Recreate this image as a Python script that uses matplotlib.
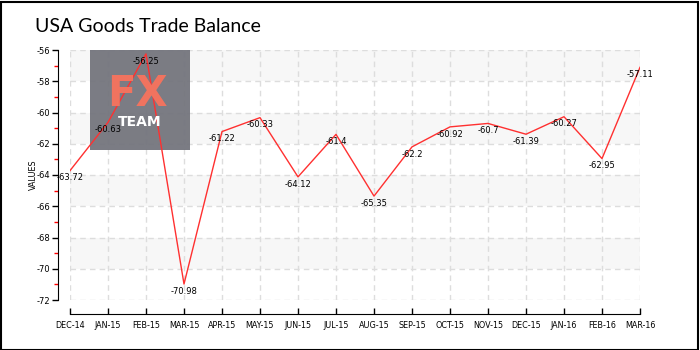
import matplotlib
matplotlib.use("Agg")
import matplotlib.pyplot as plt
from matplotlib.patches import Rectangle

months = ["DEC-14", "JAN-15", "FEB-15", "MAR-15", "APR-15", "MAY-15", "JUN-15", "JUL-15",
          "AUG-15", "SEP-15", "OCT-15", "NOV-15", "DEC-15", "JAN-16", "FEB-16", "MAR-16"]
values = [-63.72, -60.63, -56.25, -70.98, -61.22, -60.33, -64.12, -61.4,
          -65.35, -62.2, -60.92, -60.7, -61.39, -60.27, -62.95, -57.11]
y_ticks = [-56, -58, -60, -62, -64, -66, -68, -70, -72]
minor_ticks = [-57, -59, -61, -63, -65, -67, -69, -71]

W, H = 700, 350
fig = plt.figure(figsize=(7, 3.5), dpi=100)
ax = fig.add_axes([70 / W, 1 - 300 / H, 570 / W, 250 / H])

x = list(range(len(months)))
ax.set_xlim(0, len(months) - 1)
ax.set_ylim(-72, -56)

# alternating bands
for lo in (-58, -62, -66, -70):
    ax.axhspan(lo, lo + 2, color="#f7f7f7", zorder=0, lw=0)

for yv in y_ticks:
    ax.axhline(yv, color="#dddddd", lw=1, ls=(0, (4, 3)), zorder=1)
for xv in x:
    ax.axvline(xv, color="#dddddd", lw=1, ls=(0, (4, 3)), zorder=1)

# logo
ax.add_artist(Rectangle((90 / W, 1 - 150 / H), 100 / W, 100 / H, transform=fig.transFigure,
                        facecolor="#74757d", alpha=0.95, zorder=2, lw=0))
fig.text(137 / W, 1 - 94 / H, "FX", color="#f0735f", fontsize=30, fontweight="bold",
         ha="center", va="center", family="DejaVu Sans", zorder=3)
fig.text(140 / W, 1 - 122 / H, "TEAM", color="white", fontsize=10, fontweight="bold",
         ha="center", va="center", family="DejaVu Sans", zorder=3)

ax.plot(x, values, color="#ff3030", lw=1, zorder=4)

for xi, v in zip(x, values):
    ax.annotate(f"{v:g}", (xi, v), xytext=(0, -2), textcoords="offset points",
                ha="center", va="top", fontsize=6, color="black", zorder=5)

ax.set_yticks(y_ticks)
ax.set_yticklabels([str(t) for t in y_ticks])
ax.set_yticks(minor_ticks, minor=True)
ax.tick_params(axis="y", which="major", length=4, width=1, color="black", labelsize=6, pad=1.5)
ax.tick_params(axis="y", which="minor", length=3, width=1, color="#ff0000")
ax.set_xticks(x)
ax.set_xticklabels(months)
ax.tick_params(axis="x", which="major", direction="in", length=4, width=1, labelsize=5.8, pad=5)

for s in ("top", "right"):
    ax.spines[s].set_visible(False)
ax.spines["left"].set_position(("outward", 9))
ax.spines["bottom"].set_position(("outward", 10))
ax.patch.set_alpha(0)

fig.text(33 / W, 1 - 175 / H, "VALUES", rotation=90, ha="center", va="center", fontsize=5.8)

fig.text(35 / W, 1 - 27 / H, "USA Goods Trade Balance", fontsize=14, ha="left", va="center",
         family=["Lato", "DejaVu Sans"])

fig.add_artist(Rectangle((0.5 / W, 0.5 / H), 697 / W, 348 / H, transform=fig.transFigure,
                         fill=False, edgecolor="black", lw=1.5))

fig.savefig("out.png", dpi=100)
